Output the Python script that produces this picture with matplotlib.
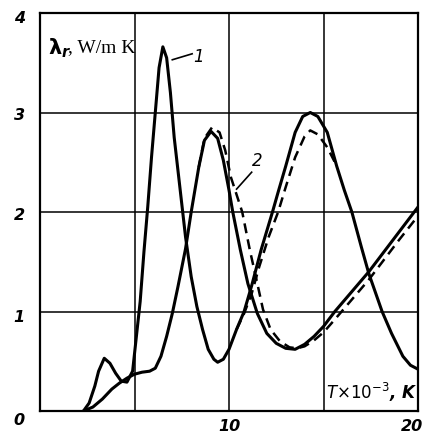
import matplotlib
matplotlib.use("Agg")
import matplotlib.pyplot as plt
from matplotlib.transforms import ScaledTranslation

# ---- data (T in 10^3 K, lambda_r in W/m K) ----
t1 = [2.3, 2.6, 2.9, 3.1, 3.4, 3.7, 4.0, 4.3, 4.6, 4.9, 5.1, 5.3, 5.5, 5.7, 5.9,
      6.1, 6.3, 6.5, 6.7, 6.9, 7.1, 7.4, 7.7, 8.0, 8.3, 8.6, 8.9, 9.2, 9.4, 9.7,
      10.0, 10.4, 10.8, 11.2, 11.7, 12.3, 12.6, 13.0, 13.5, 13.9, 14.3, 14.7,
      15.2, 15.7, 16.1, 16.5, 17.0, 17.4, 18.1, 18.6, 19.2, 19.6, 20.0]
v1 = [0.0, 0.08, 0.25, 0.40, 0.53, 0.48, 0.38, 0.30, 0.29, 0.40, 0.75, 1.10, 1.60,
      2.05, 2.55, 3.00, 3.45, 3.66, 3.55, 3.20, 2.75, 2.25, 1.75, 1.35, 1.05, 0.82,
      0.62, 0.52, 0.49, 0.52, 0.62, 0.82, 1.00, 1.26, 1.62, 2.00, 2.20, 2.46, 2.80,
      2.96, 3.00, 2.96, 2.80, 2.46, 2.22, 2.00, 1.65, 1.38, 1.00, 0.78, 0.55, 0.46, 0.42]

t1d = [10.4, 10.8, 11.2, 11.6, 12.1, 12.6, 13.0, 13.5, 14.0, 14.3, 14.7, 15.2, 15.6, 15.7]
v1d = [0.82, 0.98, 1.18, 1.45, 1.75, 2.00, 2.25, 2.55, 2.76, 2.82, 2.78, 2.65, 2.50, 2.46]

t2 = [2.3, 2.8, 3.3, 3.8, 4.2, 4.6, 5.0, 5.4, 5.8, 6.1, 6.4, 6.7, 7.0, 7.3, 7.7,
      8.0, 8.4, 8.7, 9.05, 9.4, 9.7, 10.0, 10.2, 10.6, 11.0, 11.5, 12.0, 12.5,
      13.0, 13.5, 14.0, 14.5, 15.0, 15.6, 16.5, 17.4, 18.2, 19.0, 20.0]
v2 = [0.0, 0.04, 0.12, 0.22, 0.28, 0.33, 0.37, 0.39, 0.40, 0.43, 0.55, 0.75, 0.98,
      1.25, 1.63, 2.00, 2.45, 2.72, 2.81, 2.74, 2.52, 2.22, 2.00, 1.62, 1.28, 0.98,
      0.78, 0.68, 0.63, 0.62, 0.67, 0.75, 0.85, 1.00, 1.20, 1.40, 1.60, 1.80, 2.05]

t2d = [8.4, 8.7, 9.1, 9.5, 9.8, 10.1, 10.7, 11.1, 11.5, 11.8, 12.2, 12.7, 13.2,
       13.6, 14.0, 14.5, 15.0, 15.6, 16.5, 17.4, 18.2, 19.0, 20.0]
v2d = [2.45, 2.74, 2.85, 2.80, 2.62, 2.35, 2.00, 1.62, 1.28, 1.02, 0.82, 0.70, 0.64,
       0.63, 0.65, 0.71, 0.79, 0.92, 1.12, 1.32, 1.52, 1.72, 1.96]

x_ticks = [0, 5, 10, 15, 20]
x_labels = ["", "", "10", "", "20"]
y_ticks = [0, 1, 2, 3, 4]
y_labels = ["0", "1", "2", "3", "4"]

fig = plt.figure(figsize=(4.27, 4.39), dpi=100)
ax = fig.add_axes([40/427, 27/439, 378/427, 398/439])
ax.set_xlim(0, 20)
ax.set_ylim(0, 4)

ax.set_xticks(x_ticks)
ax.set_xticklabels(x_labels)
ax.set_yticks(y_ticks)
ax.set_yticklabels(y_labels)
for lab in ax.get_xticklabels() + ax.get_yticklabels():
    lab.set_fontsize(11.5)
    lab.set_fontweight("bold")
    lab.set_fontstyle("italic")
ax.tick_params(length=0, pad=11)
ax.tick_params(axis="x", pad=5)
# nudge last x label so it stays inside the figure
xl = ax.get_xticklabels()
xl[-1].set_transform(xl[-1].get_transform() + ScaledTranslation(-6/100, 0, fig.dpi_scale_trans))
# nudge lower y labels slightly downward like the reference
for i, lab in enumerate(ax.get_yticklabels()):
    dy = [-7, -4, -1, 0, -3][i]
    lab.set_transform(lab.get_transform() + ScaledTranslation(0, dy/100, fig.dpi_scale_trans))

ax.grid(True, color="black", lw=1.1)
for s in ax.spines.values():
    s.set_linewidth(1.6)

ax.plot(t1, v1, color="black", lw=2.2, solid_capstyle="round", solid_joinstyle="round")
ax.plot(t2, v2, color="black", lw=2.2, solid_capstyle="round", solid_joinstyle="round")
ax.plot(t1d, v1d, color="black", lw=1.8, ls=(0, (4, 2.5)))
ax.plot(t2d, v2d, color="black", lw=1.8, ls=(0, (4, 2.5)))

# labels
ax.text(0.4, 3.66, r"$\mathbf{\lambda}_{\boldsymbol{r}}$", fontsize=15, va="center", ha="left")
ax.text(1.5, 3.66, ", W/m K", fontsize=14, family="Liberation Serif", va="center", ha="left")
ax.plot([7.0, 8.05], [3.53, 3.59], color="black", lw=1.2)
ax.text(8.4, 3.57, "1", fontsize=12, fontstyle="italic", va="center", ha="center")
ax.plot([10.4, 11.2], [2.23, 2.40], color="black", lw=1.2)
ax.text(11.5, 2.52, "2", fontsize=12, fontstyle="italic", va="center", ha="center")
ax.text(19.95, 0.2, r"$T{\times}10^{-3}$, K", fontsize=12, fontstyle="italic",
        fontweight="bold", va="center", ha="right")

fig.savefig("out.png", dpi=100)
